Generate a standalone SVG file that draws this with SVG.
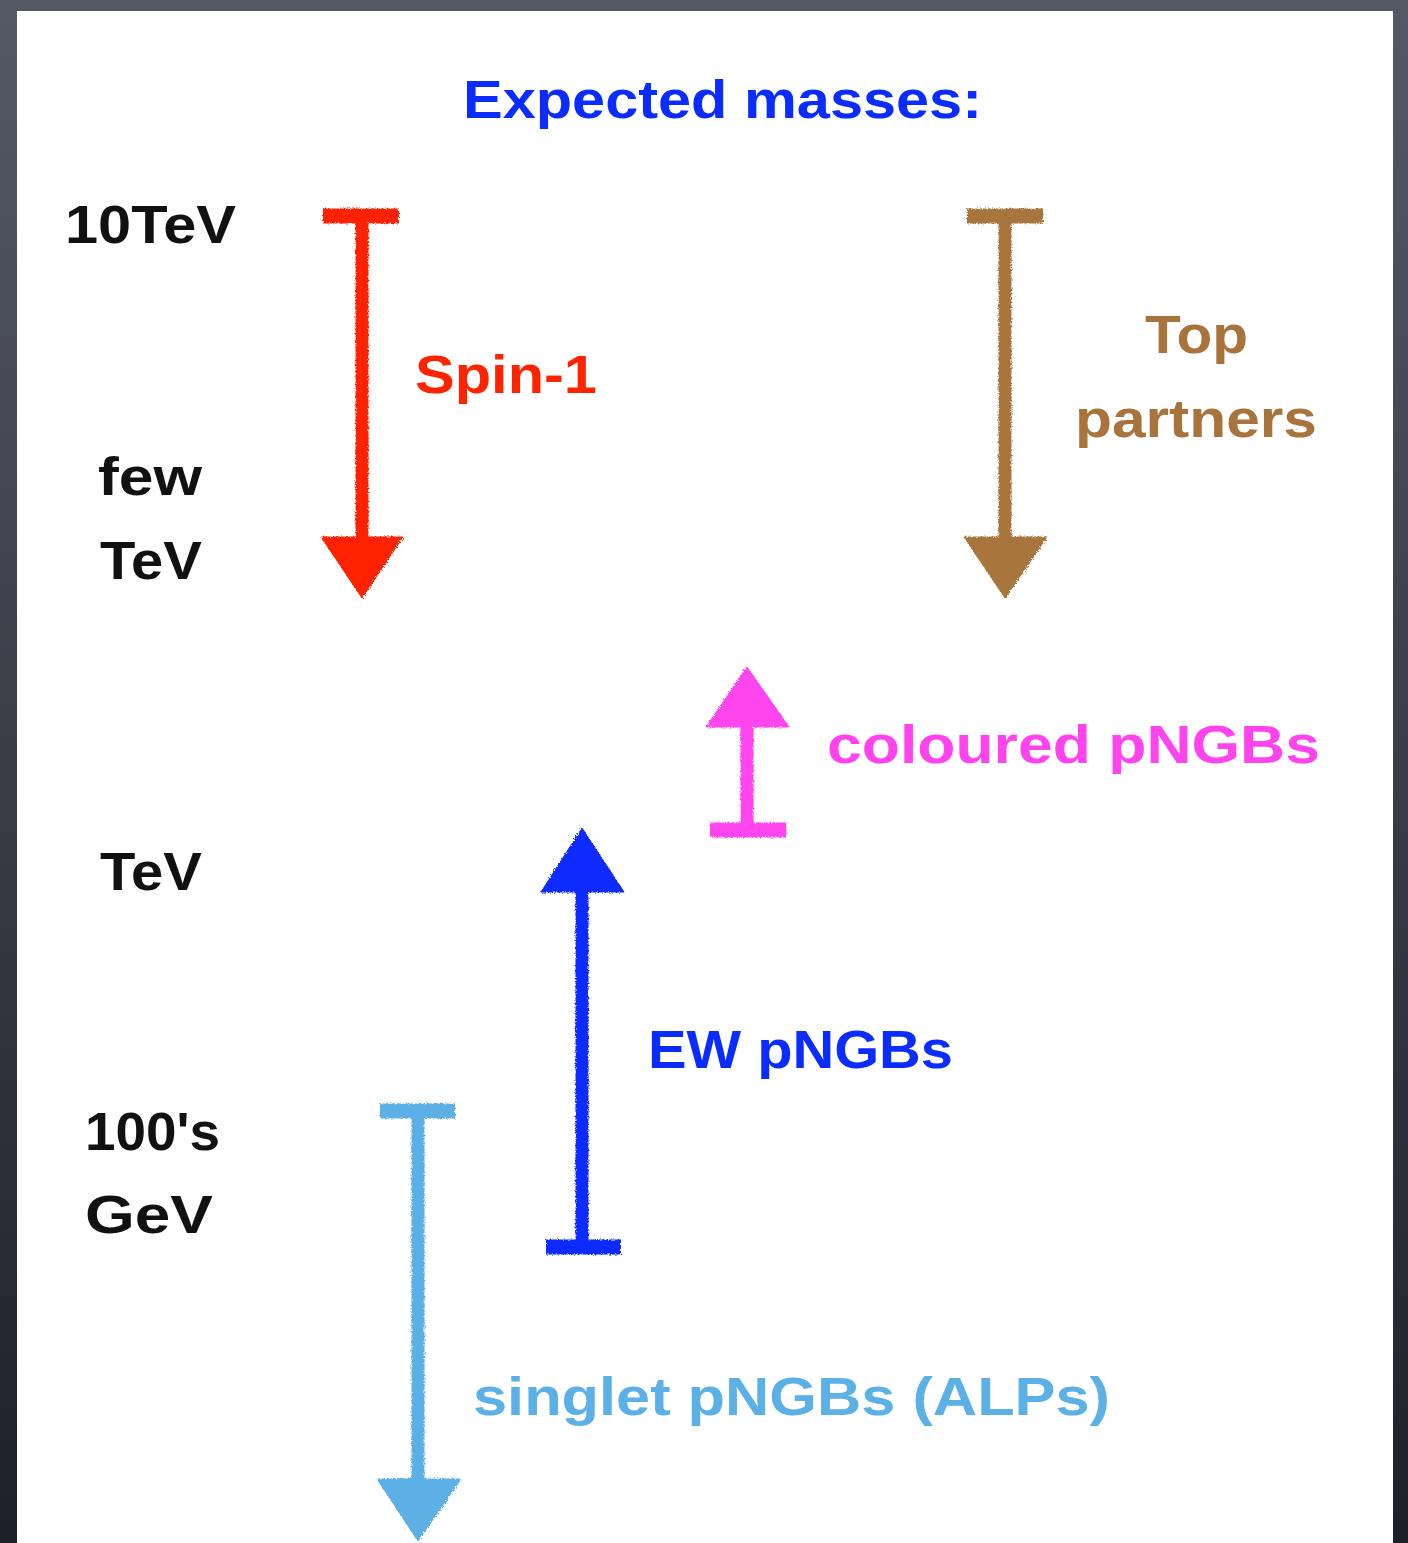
<svg xmlns="http://www.w3.org/2000/svg" width="1408" height="1543" viewBox="0 0 1408 1543">
<defs>
<linearGradient id="bg" x1="0" y1="0" x2="0" y2="1">
<stop offset="0" stop-color="#555966"/>
<stop offset="0.5" stop-color="#3a3d48"/>
<stop offset="1" stop-color="#1e2029"/>
</linearGradient>
<filter id="chalk" x="-10%" y="-10%" width="120%" height="120%">
<feTurbulence type="fractalNoise" baseFrequency="0.6" numOctaves="2" seed="3" result="n"/>
<feDisplacementMap in="SourceGraphic" in2="n" scale="4"/>
</filter>
<style>
text{font-family:"Liberation Sans","DejaVu Sans",sans-serif;font-size:54px;font-weight:bold;}
.k{fill:#111111}
.shaft{stroke-width:13;fill:none;stroke-linecap:butt}
.bar{stroke-width:15;fill:none;stroke-linecap:butt}
.red{stroke:#ff2400;fill:#ff2400}
.brn{stroke:#a8743c;fill:#a8743c}
.mag{stroke:#ff44ee;fill:#ff44ee}
.blu{stroke:#0a2cff;fill:#0a2cff}
.lbl{stroke:#5bb0e6;fill:#5bb0e6}
</style>
</defs>
<rect x="0" y="0" width="1408" height="1543" fill="url(#bg)"/>
<rect x="17" y="11" width="1376" height="1540" fill="#ffffff"/>

<g id="title"><text x="463" y="118" fill="#0a2cff" textLength="519" lengthAdjust="spacingAndGlyphs">Expected masses:</text></g>

<g id="scale-labels">
<text class="k" x="65" y="243" textLength="171" lengthAdjust="spacingAndGlyphs">10TeV</text>
<text class="k" x="98" y="495" textLength="104" lengthAdjust="spacingAndGlyphs">few</text>
<text class="k" x="100" y="579" textLength="102" lengthAdjust="spacingAndGlyphs">TeV</text>
<text class="k" x="100" y="890" textLength="102" lengthAdjust="spacingAndGlyphs">TeV</text>
<text class="k" x="85" y="1150" textLength="135" lengthAdjust="spacingAndGlyphs">100's</text>
<text class="k" x="85" y="1233" textLength="128" lengthAdjust="spacingAndGlyphs">GeV</text>
</g>

<g id="connectors" filter="url(#chalk)">
<g id="spin1-arrow" class="red">
<line class="bar" x1="323" y1="216" x2="399" y2="216"/>
<line class="shaft" x1="362" y1="216" x2="362" y2="545"/>
<polygon points="321,537 403,537 362,598"/>
</g>
<g id="top-arrow" class="brn">
<line class="bar" x1="967" y1="216" x2="1043" y2="216"/>
<line class="shaft" x1="1005" y1="216" x2="1005" y2="545"/>
<polygon points="964,537 1047,537 1005,598"/>
</g>
<g id="coloured-arrow" class="mag">
<polygon points="747,667 789,727 706,727"/>
<line class="shaft" x1="747" y1="720" x2="747" y2="830"/>
<line class="bar" x1="710" y1="830" x2="786" y2="830"/>
</g>
<g id="ew-arrow" class="blu">
<polygon points="582,828 624,892 541,892"/>
<line class="shaft" x1="582" y1="885" x2="582" y2="1247"/>
<line class="bar" x1="546" y1="1247" x2="621" y2="1247"/>
</g>
<g id="singlet-arrow" class="lbl">
<line class="bar" x1="380" y1="1111" x2="455" y2="1111"/>
<line class="shaft" x1="418" y1="1111" x2="418" y2="1488"/>
<polygon points="377,1479 461,1479 418,1541"/>
</g>
</g>

<g id="spin1"><text x="415" y="393" fill="#ff2400" textLength="182" lengthAdjust="spacingAndGlyphs">Spin-1</text></g>
<g id="top-partners">
<text x="1145" y="353" fill="#a8743c" textLength="103" lengthAdjust="spacingAndGlyphs">Top</text>
<text x="1075" y="437" fill="#a8743c" textLength="242" lengthAdjust="spacingAndGlyphs">partners</text>
</g>
<g id="coloured"><text x="827" y="763" fill="#ff44ee" textLength="493" lengthAdjust="spacingAndGlyphs">coloured pNGBs</text></g>
<g id="ew"><text x="648" y="1068" fill="#0a2cff" textLength="305" lengthAdjust="spacingAndGlyphs">EW pNGBs</text></g>
<g id="singlet"><text x="473" y="1415" fill="#5bb0e6" textLength="637" lengthAdjust="spacingAndGlyphs">singlet pNGBs (ALPs)</text></g>
</svg>
